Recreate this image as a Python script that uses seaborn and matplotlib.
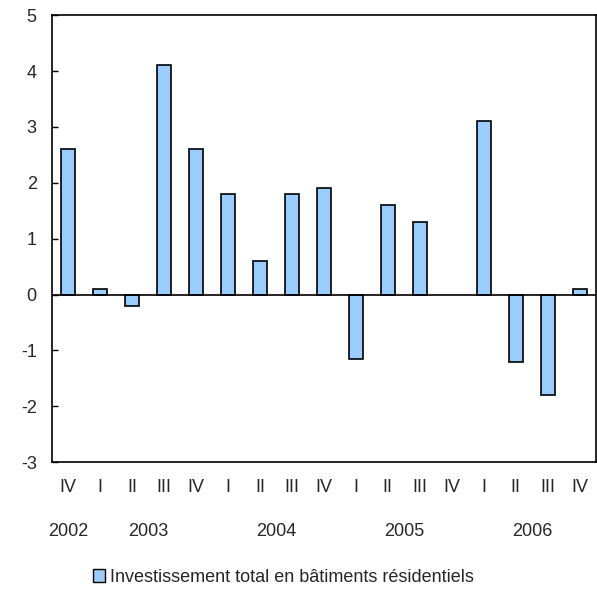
import pandas as pd
import matplotlib
matplotlib.use('Agg')
import matplotlib.pyplot as plt
import matplotlib.transforms as mtransforms
from matplotlib.patches import Patch
import seaborn as sns

sns.set_theme(style="white")
plt.rcParams['font.family'] = ['Liberation Sans', 'DejaVu Sans']
plt.rcParams['axes.unicode_minus'] = False

# donnees
trimestres = ['IV', 'I', 'II', 'III', 'IV', 'I', 'II', 'III', 'IV',
              'I', 'II', 'III', 'IV', 'I', 'II', 'III', 'IV']
annees = ['2002', '2003', '2003', '2003', '2003', '2004', '2004', '2004', '2004',
          '2005', '2005', '2005', '2005', '2006', '2006', '2006', '2006']
valeurs = [2.6, 0.1, -0.2, 4.1, 2.6, 1.8, 0.6, 1.8, 1.9,
           -1.15, 1.6, 1.3, 0.0, 3.1, -1.2, -1.8, 0.1]
etiquette = 'Investissement total en bâtiments résidentiels'

df = pd.DataFrame({'trim': trimestres, 'annee': annees, 'val': valeurs})
df['cle'] = df['annee'] + ' ' + df['trim']

FS = 13

fig = plt.figure(figsize=(5.97, 5.94), dpi=100)
ax = fig.add_axes([0.087, 0.222, 0.911, 0.7525])

sns.barplot(data=df[df['val'] != 0], x='cle', y='val', ax=ax, color='#99ccff',
            saturation=1, width=0.44, edgecolor='black', linewidth=1.2,
            order=df['cle'])
ax.axhline(0, color='black', lw=1.2, zorder=3)

ax.set_ylim(-3, 5)
ax.set_xlim(-0.5, len(df) - 0.5)
ax.set_yticks(range(-3, 6))
ax.set_xticks(range(len(df)))
ax.set_xticklabels(df['trim'])
ax.set_xlabel('')
ax.set_ylabel('')
ax.tick_params(axis='y', direction='in', length=4, width=1, color='black',
               left=True, labelsize=FS, pad=11)
ax.tick_params(axis='x', length=0, labelsize=FS, pad=12)
for s in ax.spines.values():
    s.set_color('black')
    s.set_linewidth(1.2)

# annees centrees sous leurs trimestres
trans = mtransforms.blended_transform_factory(ax.transData, ax.transAxes)
pos = df.reset_index().groupby('annee')['index'].mean()
for an, x in pos.items():
    ax.text(x, -0.155, an, transform=trans, ha='center', va='center', fontsize=FS)

fig.legend(handles=[Patch(facecolor='#99ccff', edgecolor='black', linewidth=1)],
           labels=[etiquette], loc='center left', bbox_to_anchor=(0.155, 0.028),
           frameon=False, fontsize=FS, handlelength=0.7, handleheight=0.7,
           handletextpad=0.25, borderaxespad=0, borderpad=0)

plt.savefig('out.png', dpi=100)
